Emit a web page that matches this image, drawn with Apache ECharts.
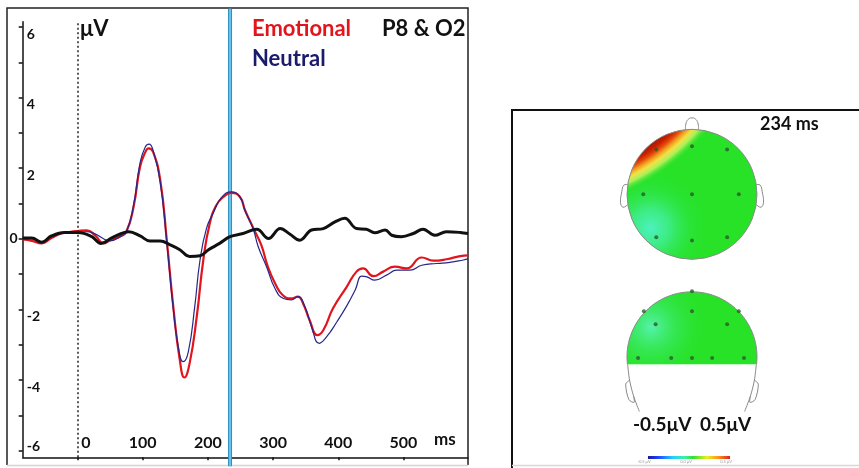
<!DOCTYPE html>
<html><head><meta charset="utf-8">
<script src="https://cdn.jsdelivr.net/npm/echarts@6/dist/echarts.min.js"></script>
<style>html,body{margin:0;padding:0;background:#fff}#c{width:859px;height:468px}</style>
</head><body><div id="c"></div>
<script>
// ---------- data ----------
const emotionalTime = [-84,-70,-55,-40,-25,-10,0,14,27,40,50,65,75,86,96,104,109,116,127,137,147,157,164,172,183,193,203,213,224,236,249,257,270,282,292,303,315,328,338,346,356,368,377,392,413,428,438,454,469,487,505,528,546,566,587,599];
const emotionalValue = [-0.02,-0.06,-0.13,0.02,0.15,0.2,0.22,0.24,0.1,-0.13,-0.04,0.06,0.2,0.9,2.04,2.45,2.56,2.46,1.66,-0.04,-1.93,-3.44,-3.93,-3.53,-2.2,-0.6,0.44,0.95,1.19,1.3,1.19,0.81,0.29,-0.18,-0.79,-1.26,-1.6,-1.69,-1.64,-1.83,-2.3,-2.73,-2.59,-1.97,-1.36,-0.93,-0.84,-1.06,-0.93,-0.79,-0.84,-0.53,-0.62,-0.58,-0.49,-0.47];
const neutralTime = [-84,-70,-55,-40,-25,-10,0,14,27,40,50,65,75,86,96,104,110,116,127,137,147,155,162,170,180,188,198,208,220,236,249,257,270,277,290,303,316,328,338,349,359,371,382,398,413,426,436,444,456,474,490,510,528,551,571,592,599];
const neutralValue = [0,0,-0.08,0.05,0.15,0.18,0.18,0.2,0.14,0,-0.06,0.06,0.2,0.95,2.15,2.6,2.68,2.5,1.6,-0.1,-2.0,-3.1,-3.48,-3.2,-1.9,-0.6,0.3,0.72,1.15,1.33,1.19,0.8,0.25,-0.21,-0.79,-1.41,-1.69,-1.73,-1.64,-1.93,-2.49,-2.96,-2.78,-2.35,-1.9,-1.45,-1.06,-1.08,-1.17,-1.03,-0.89,-0.89,-0.75,-0.7,-0.67,-0.6,-0.57];
const differenceTime = [-84,-70,-55,-40,-20,1,22,36,54,79,96,111,127,142,157,172,188,201,218,234,254,275,293,311,326,341,359,377,395,410,428,443,456,472,482,497,515,530,548,566,587,599];
const differenceValue = [0.02,0.02,-0.1,0.08,0.18,0.18,0.06,-0.13,0.04,0.2,0.08,-0.06,-0.06,-0.17,-0.31,-0.5,-0.48,-0.31,-0.13,0.06,0.15,0.27,0.01,0.29,0.13,-0.04,0.25,0.29,0.48,0.58,0.29,0.27,0.17,0.25,0.1,0.06,0.15,0.27,0.1,0.2,0.18,0.15];
const xTickValues = [0,100,200,300,400,500];
const yTickValues = [-6,-5,-4,-3,-2,-1,0,1,2,3,4,5,6];
const yLabelValues = [-6,-4,-2,2,4,6];
const yZeroLabel = [0];
const markerTime = [234];
const onsetTime = [0];
// topographic maps: head centres (x, y, kind 0 = top view, 1 = back view)
const headCenters = [[0,0,0],[0,-2.5,1]];
const topHeadElectrodes = [[-0.55,0.69],[0,0.74],[0.54,0.69],[-0.75,0],[0,0],[0.72,0],[-0.55,-0.66],[0,-0.71],[0.54,-0.66]];
const backHeadElectrodes = [[0,-1.49],[-0.74,-1.8],[0,-1.8],[0.72,-1.8],[-0.56,-2.0],[0.54,-2.0],[-0.83,-2.52],[-0.32,-2.52],[0,-2.52],[0.31,-2.52],[0.8,-2.52]];
const scaleLabels = ['-0.5μV','0.5μV'];
const colorbarLabels = ['-0.5 μV','0.0 μV','0.5 μV'];

// ---------- chart ----------
const FONT = 'Lato, "Open Sans", sans-serif';
const pairs = (ts, vs) => ts.map((t, i) => [t, vs[i]]);
const GREEN = '#27e227';
const RG = echarts.graphic.RadialGradient;

function headRender(params, api) {
  const cx = api.value(0), cy = api.value(1), kind = api.value(2);
  const P = (dx, dy) => api.coord([cx + dx, cy + dy]);
  const c = P(0, 0);
  const r = api.size([1, 0])[0];
  const line = () => ({stroke: '#8a8a8a', lineWidth: 1, fill: null});
  const pl = (pts, smooth) => ({type: 'polyline', shape: {points: pts.map(p => P(p[0], p[1])), smooth: smooth || 0}, style: line()});
  const kids = [];
  if (kind === 0) {
    const ear = [[-0.985,0.15],[-1.05,0.14],[-1.08,0.04],[-1.1,-0.13],[-1.06,-0.2],[-0.99,-0.16]];
    kids.push(pl(ear, 0.4));
    kids.push(pl(ear.map(p => [-p[0], p[1]]), 0.4));
    kids.push(pl([[-0.1,0.995],[-0.09,1.1],[-0.05,1.16],[0,1.175],[0.05,1.16],[0.09,1.1],[0.1,0.995]], 0.5));
    const circ = {cx: c[0], cy: c[1], r: r};
    kids.push({type: 'circle', shape: circ, style: {fill: GREEN}});
    const cy1 = P(-0.64, -0.52);
    kids.push({type: 'circle', shape: circ, style: {fill: new RG(cy1[0], cy1[1], 0.95 * r, [
      {offset: 0, color: 'rgba(80,242,200,0.95)'},
      {offset: 0.3, color: 'rgba(70,240,170,0.7)'},
      {offset: 0.65, color: 'rgba(50,232,95,0.3)'},
      {offset: 1, color: 'rgba(39,226,39,0)'}], true)}});
    // positive patch along the upper-left rim
    const ang = 127 * Math.PI / 180, D = 4.0;
    const e = P(D * Math.cos(ang), D * Math.sin(ang));
    const R = 3.6 * r;
    const o = px => (D * r - r + px) / R;   // offset for a given depth (px) inside the rim
    kids.push({type: 'circle', shape: circ, style: {fill: new RG(e[0], e[1], R, [
      {offset: 0, color: '#9a0e00'},
      {offset: o(-2), color: '#a01000'},
      {offset: o(5), color: '#cc2000'},
      {offset: o(9), color: '#e44c08'},
      {offset: o(13), color: '#f2a024'},
      {offset: o(17), color: '#f3e040'},
      {offset: o(22), color: 'rgba(225,246,110,0.7)'},
      {offset: o(30), color: 'rgba(39,226,39,0)'},
      {offset: 1, color: 'rgba(39,226,39,0)'}], true)}});
    kids.push({type: 'circle', shape: circ, style: line()});
  } else {
    const side = [[-0.99,-0.115],[-0.96,-0.36],[-0.9,-0.6],[-0.81,-0.84]];
    const ear = [[-0.96,-0.36],[-1.02,-0.42],[-0.97,-0.66],[-0.89,-0.7],[-0.9,-0.6]];
    kids.push(pl(side, 0.3), pl(side.map(p => [-p[0], p[1]]), 0.3));
    kids.push(pl(ear, 0.3), pl(ear.map(p => [-p[0], p[1]]), 0.3));
    const arc = [];
    const a0 = Math.asin(-0.115);
    const n = 60;
    for (let i = 0; i <= n; i++) {
      const a = a0 + (Math.PI - 2 * a0) * i / n;
      arc.push([Math.cos(a), Math.sin(a)]);
    }
    const pts = arc.map(p => P(p[0], p[1]));
    kids.push({type: 'polygon', shape: {points: pts}, style: {fill: GREEN}});
    const cb = P(-0.63, 0.46);
    kids.push({type: 'polygon', shape: {points: pts}, style: {fill: new RG(cb[0], cb[1], 0.9 * r, [
      {offset: 0, color: 'rgba(95,244,195,0.85)'},
      {offset: 0.4, color: 'rgba(70,238,140,0.45)'},
      {offset: 1, color: 'rgba(39,226,39,0)'}], true)}});
    kids.push({type: 'polyline', shape: {points: pts}, style: line()});
  }
  return {type: 'group', children: kids};
}

function markerRender(params, api) {
  const x = api.coord([api.value(0), 0])[0];
  const cs = params.coordSys;
  const y1 = cs.y - 13, y2 = cs.y + cs.height + 9;
  return {type: 'group', children: [
    {type: 'line', shape: {x1: x, y1: y1, x2: x, y2: y2}, style: {stroke: '#2b93c2', lineWidth: 4}},
    {type: 'line', shape: {x1: x, y1: y1, x2: x, y2: y2}, style: {stroke: '#7ccdee', lineWidth: 1.6}}
  ]};
}

const txt = (text, x, y, size, color, align) => ({type: 'text', x: x, y: y, silent: true, style: {
  text: text, font: 'bold ' + size + 'px ' + FONT, fill: color,
  textAlign: align || 'left', align: align || 'left', textVerticalAlign: 'middle', verticalAlign: 'middle'}});

const chart = echarts.init(document.getElementById('c'), null, {renderer: 'canvas'});
const axisColor = '#111';
const labelRich = (size) => ({fontSize: size, fontWeight: 'bold', fontFamily: FONT, color: '#111'});

chart.setOption({
  animation: false,
  backgroundColor: '#fff',
  grid: [
    {left: 22.7, top: 21.7, width: 445.3, height: 435.6},
    {left: 601, top: 116.3, width: 182, height: 312}
  ],
  xAxis: [
    {type: 'value', gridIndex: 0, min: -84, max: 599,
     axisLine: {onZero: false, lineStyle: {color: axisColor, width: 1.5}},
     axisTick: {customValues: xTickValues, length: 3, lineStyle: {color: axisColor, width: 1.5}},
     axisLabel: {customValues: xTickValues, inside: true, margin: 6,
       formatter: v => v === 0 ? '{z|0}' : '{a|' + v + '}',
       rich: {a: labelRich(16), z: Object.assign({padding: [0, 0, 0, 17]}, labelRich(16))}},
     splitLine: {show: false}},
    {type: 'value', gridIndex: 1, min: -1.4, max: 1.4, show: false}
  ],
  yAxis: [
    {type: 'value', gridIndex: 0, min: -6.19, max: 6.15, position: 'left',
     axisLine: {show: true, onZero: false, lineStyle: {color: axisColor, width: 1.5}},
     axisTick: {show: true, customValues: yTickValues, length: 4, lineStyle: {color: axisColor, width: 1.5}},
     axisLabel: {show: true, inside: true, customValues: yLabelValues, margin: 4,
       formatter: v => v === -6 ? '{b|-6}' : '{a|' + v + '}',
       rich: {a: Object.assign({padding: [14, 0, 0, 0]}, labelRich(14)), b: Object.assign({padding: [0, 0, 8, 0]}, labelRich(14))}},
     splitLine: {show: false}},
    {type: 'value', gridIndex: 0, min: -6.19, max: 6.15, position: 'left',
     axisLine: {show: false, onZero: false}, axisTick: {show: false},
     axisLabel: {show: true, customValues: yZeroLabel, margin: 5, fontSize: 14, fontWeight: 'bold', fontFamily: FONT, color: '#111'},
     splitLine: {show: false}},
    {type: 'value', gridIndex: 1, min: -3.6, max: 1.2, show: false}
  ],
  series: [
    {type: 'custom', name: 'marker', xAxisIndex: 0, yAxisIndex: 0, data: markerTime.map(t => [t, 0]),
     renderItem: markerRender, z: 1, silent: true, clip: false},
    {type: 'line', name: 'Emotional', xAxisIndex: 0, yAxisIndex: 0, data: pairs(emotionalTime, emotionalValue),
     smooth: 0.5, showSymbol: false, lineStyle: {color: '#e2141c', width: 2.2}, z: 2, silent: true},
    {type: 'line', name: 'Neutral', xAxisIndex: 0, yAxisIndex: 0, data: pairs(neutralTime, neutralValue),
     smooth: 0.5, showSymbol: false, lineStyle: {color: '#26268a', width: 1.2}, z: 3, silent: true},
    {type: 'line', name: 'Difference', xAxisIndex: 0, yAxisIndex: 0, data: pairs(differenceTime, differenceValue),
     smooth: 0.4, showSymbol: false, lineStyle: {color: '#111', width: 3}, z: 4, silent: true,
     markLine: {silent: true, symbol: 'none', label: {show: false},
       lineStyle: {type: [2, 2.5], color: '#222', width: 1.5},
       data: onsetTime.map(t => ({xAxis: t}))}},
    {type: 'custom', name: 'heads', xAxisIndex: 1, yAxisIndex: 2, data: headCenters,
     renderItem: headRender, z: 2, silent: true, clip: false},
    {type: 'scatter', name: 'electrodes', xAxisIndex: 1, yAxisIndex: 2,
     data: topHeadElectrodes.concat(backHeadElectrodes), symbolSize: 4,
     itemStyle: {color: '#2c5a2c'}, z: 5, silent: true}
  ],
  graphic: [
    {type: 'polyline', silent: true, shape: {points: [[7, 465], [7, 8], [468, 8], [468, 465]]}, style: {stroke: '#222', lineWidth: 1.5, fill: null}},
    {type: 'line', silent: true, shape: {x1: 7, y1: 465.5, x2: 468, y2: 465.5}, style: {stroke: '#d4d4d4', lineWidth: 1.5}},
    {type: 'polyline', silent: true, shape: {points: [[512, 470], [512, 110], [862, 110]]}, style: {stroke: '#111', lineWidth: 2, fill: null}},
    {type: 'line', silent: true, shape: {x1: 512, y1: 465.5, x2: 859, y2: 465.5}, style: {stroke: '#d8d8d8', lineWidth: 1.5}},
    txt('μV', 80, 28.5, 22, '#111'),
    txt('Emotional', 252, 28.5, 22, '#e2141c'),
    txt('P8 & O2', 382, 28.5, 22, '#111'),
    txt('Neutral', 252, 58.5, 22, '#1b1b6e'),
    txt('ms', 434, 440, 17, '#111'),
    txt('234 ms', 760, 124, 18, '#111'),
    txt(scaleLabels[0], 633, 424.7, 19, '#111'),
    txt(scaleLabels[1], 700, 424.7, 19, '#111'),
    {type: 'rect', silent: true, shape: {x: 648, y: 456, width: 82, height: 3},
     style: {fill: new echarts.graphic.LinearGradient(0, 0, 1, 0, [
       {offset: 0, color: '#1a1a9a'}, {offset: 0.12, color: '#2040ff'}, {offset: 0.3, color: '#20d0ff'},
       {offset: 0.45, color: '#40f0a0'}, {offset: 0.55, color: '#30e030'}, {offset: 0.72, color: '#e8f020'},
       {offset: 0.86, color: '#ff9020'}, {offset: 1, color: '#e02020'}])}},
    {type: 'text', x: 644, y: 462, silent: true, style: {text: colorbarLabels[0], font: '4px ' + FONT, fill: '#999', textAlign: 'center', align: 'center', textVerticalAlign: 'middle', verticalAlign: 'middle'}},
    {type: 'text', x: 686, y: 462, silent: true, style: {text: colorbarLabels[1], font: '4px ' + FONT, fill: '#999', textAlign: 'center', align: 'center', textVerticalAlign: 'middle', verticalAlign: 'middle'}},
    {type: 'text', x: 726, y: 462, silent: true, style: {text: colorbarLabels[2], font: '4px ' + FONT, fill: '#999', textAlign: 'center', align: 'center', textVerticalAlign: 'middle', verticalAlign: 'middle'}}
  ]
});
</script>
</body></html>
